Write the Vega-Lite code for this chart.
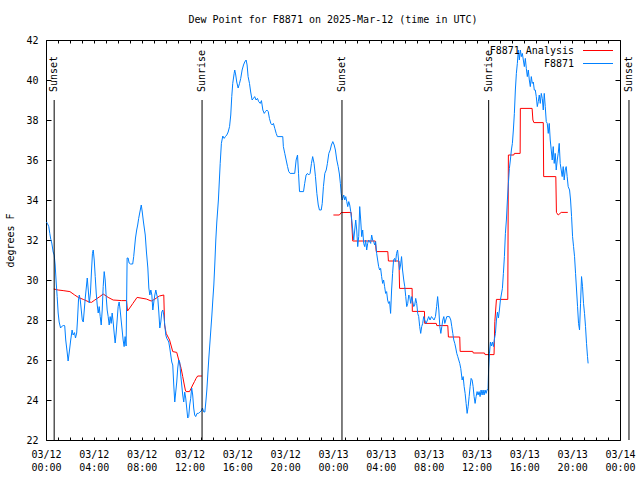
{
  "$schema": "https://vega.github.io/schema/vega-lite/v6.json",
  "width": 574,
  "height": 400,
  "autosize": "none",
  "padding": {"left": 46, "top": 40, "right": 20, "bottom": 40},
  "background": "white",
  "title": {"text": "Dew Point for F8871 on 2025-Mar-12 (time in UTC)", "font": "DejaVu Sans Mono", "fontSize": 10, "fontWeight": "normal", "color": "black", "anchor": "middle", "offset": 10},
  "datasets": {
    "dew": [
      {"time": "2025-03-12T00:39:00Z", "dewpoint": 29.55, "series": "F8871 Analysis"},
      {"time": "2025-03-12T01:01:00Z", "dewpoint": 29.5, "series": "F8871 Analysis"},
      {"time": "2025-03-12T01:26:00Z", "dewpoint": 29.47, "series": "F8871 Analysis"},
      {"time": "2025-03-12T02:00:00Z", "dewpoint": 29.42, "series": "F8871 Analysis"},
      {"time": "2025-03-12T02:24:00Z", "dewpoint": 29.25, "series": "F8871 Analysis"},
      {"time": "2025-03-12T02:42:00Z", "dewpoint": 29.13, "series": "F8871 Analysis"},
      {"time": "2025-03-12T03:07:00Z", "dewpoint": 29.03, "series": "F8871 Analysis"},
      {"time": "2025-03-12T03:32:00Z", "dewpoint": 28.92, "series": "F8871 Analysis"},
      {"time": "2025-03-12T03:48:00Z", "dewpoint": 28.88, "series": "F8871 Analysis"},
      {"time": "2025-03-12T04:05:00Z", "dewpoint": 29.0, "series": "F8871 Analysis"},
      {"time": "2025-03-12T04:30:00Z", "dewpoint": 29.17, "series": "F8871 Analysis"},
      {"time": "2025-03-12T04:47:00Z", "dewpoint": 29.3, "series": "F8871 Analysis"},
      {"time": "2025-03-12T05:12:00Z", "dewpoint": 29.13, "series": "F8871 Analysis"},
      {"time": "2025-03-12T05:37:00Z", "dewpoint": 29.0, "series": "F8871 Analysis"},
      {"time": "2025-03-12T06:19:00Z", "dewpoint": 28.97, "series": "F8871 Analysis"},
      {"time": "2025-03-12T06:44:00Z", "dewpoint": 28.97, "series": "F8871 Analysis"},
      {"time": "2025-03-12T06:49:00Z", "dewpoint": 28.45, "series": "F8871 Analysis"},
      {"time": "2025-03-12T07:00:00Z", "dewpoint": 28.6, "series": "F8871 Analysis"},
      {"time": "2025-03-12T07:16:00Z", "dewpoint": 28.83, "series": "F8871 Analysis"},
      {"time": "2025-03-12T07:37:00Z", "dewpoint": 29.13, "series": "F8871 Analysis"},
      {"time": "2025-03-12T08:23:00Z", "dewpoint": 29.05, "series": "F8871 Analysis"},
      {"time": "2025-03-12T08:48:00Z", "dewpoint": 28.95, "series": "F8871 Analysis"},
      {"time": "2025-03-12T09:04:00Z", "dewpoint": 29.03, "series": "F8871 Analysis"},
      {"time": "2025-03-12T09:29:00Z", "dewpoint": 29.2, "series": "F8871 Analysis"},
      {"time": "2025-03-12T09:51:00Z", "dewpoint": 29.25, "series": "F8871 Analysis"},
      {"time": "2025-03-12T09:55:00Z", "dewpoint": 27.75, "series": "F8871 Analysis"},
      {"time": "2025-03-12T10:03:00Z", "dewpoint": 27.33, "series": "F8871 Analysis"},
      {"time": "2025-03-12T10:20:00Z", "dewpoint": 27.0, "series": "F8871 Analysis"},
      {"time": "2025-03-12T10:36:00Z", "dewpoint": 26.42, "series": "F8871 Analysis"},
      {"time": "2025-03-12T10:56:00Z", "dewpoint": 26.38, "series": "F8871 Analysis"},
      {"time": "2025-03-12T11:06:00Z", "dewpoint": 26.0, "series": "F8871 Analysis"},
      {"time": "2025-03-12T11:18:00Z", "dewpoint": 25.58, "series": "F8871 Analysis"},
      {"time": "2025-03-12T11:26:00Z", "dewpoint": 25.17, "series": "F8871 Analysis"},
      {"time": "2025-03-12T11:34:00Z", "dewpoint": 24.75, "series": "F8871 Analysis"},
      {"time": "2025-03-12T11:39:00Z", "dewpoint": 24.5, "series": "F8871 Analysis"},
      {"time": "2025-03-12T11:43:00Z", "dewpoint": 24.42, "series": "F8871 Analysis"},
      {"time": "2025-03-12T12:00:00Z", "dewpoint": 24.42, "series": "F8871 Analysis"},
      {"time": "2025-03-12T12:08:00Z", "dewpoint": 24.58, "series": "F8871 Analysis"},
      {"time": "2025-03-12T12:16:00Z", "dewpoint": 24.75, "series": "F8871 Analysis"},
      {"time": "2025-03-12T12:25:00Z", "dewpoint": 24.92, "series": "F8871 Analysis"},
      {"time": "2025-03-12T12:33:00Z", "dewpoint": 25.08, "series": "F8871 Analysis"},
      {"time": "2025-03-12T12:41:00Z", "dewpoint": 25.2, "series": "F8871 Analysis"},
      {"time": "2025-03-12T13:02:00Z", "dewpoint": 25.2, "series": "F8871 Analysis"},
      {"time": "2025-03-12T18:00:00Z", "dewpoint": null, "series": "F8871 Analysis"},
      {"time": "2025-03-13T00:02:00Z", "dewpoint": 33.25, "series": "F8871 Analysis"},
      {"time": "2025-03-13T00:32:00Z", "dewpoint": 33.25, "series": "F8871 Analysis"},
      {"time": "2025-03-13T00:41:00Z", "dewpoint": 33.37, "series": "F8871 Analysis"},
      {"time": "2025-03-13T01:31:00Z", "dewpoint": 33.38, "series": "F8871 Analysis"},
      {"time": "2025-03-13T01:39:00Z", "dewpoint": 31.95, "series": "F8871 Analysis"},
      {"time": "2025-03-13T03:32:00Z", "dewpoint": 31.95, "series": "F8871 Analysis"},
      {"time": "2025-03-13T03:37:00Z", "dewpoint": 31.42, "series": "F8871 Analysis"},
      {"time": "2025-03-13T04:35:00Z", "dewpoint": 31.42, "series": "F8871 Analysis"},
      {"time": "2025-03-13T04:38:00Z", "dewpoint": 30.95, "series": "F8871 Analysis"},
      {"time": "2025-03-13T05:31:00Z", "dewpoint": 30.95, "series": "F8871 Analysis"},
      {"time": "2025-03-13T05:34:00Z", "dewpoint": 29.58, "series": "F8871 Analysis"},
      {"time": "2025-03-13T06:37:00Z", "dewpoint": 29.58, "series": "F8871 Analysis"},
      {"time": "2025-03-13T06:38:00Z", "dewpoint": 28.43, "series": "F8871 Analysis"},
      {"time": "2025-03-13T07:39:00Z", "dewpoint": 28.43, "series": "F8871 Analysis"},
      {"time": "2025-03-13T07:40:00Z", "dewpoint": 27.83, "series": "F8871 Analysis"},
      {"time": "2025-03-13T08:38:00Z", "dewpoint": 27.83, "series": "F8871 Analysis"},
      {"time": "2025-03-13T08:41:00Z", "dewpoint": 27.72, "series": "F8871 Analysis"},
      {"time": "2025-03-13T09:36:00Z", "dewpoint": 27.72, "series": "F8871 Analysis"},
      {"time": "2025-03-13T09:39:00Z", "dewpoint": 27.15, "series": "F8871 Analysis"},
      {"time": "2025-03-13T10:36:00Z", "dewpoint": 27.15, "series": "F8871 Analysis"},
      {"time": "2025-03-13T10:38:00Z", "dewpoint": 26.43, "series": "F8871 Analysis"},
      {"time": "2025-03-13T11:41:00Z", "dewpoint": 26.43, "series": "F8871 Analysis"},
      {"time": "2025-03-13T11:44:00Z", "dewpoint": 26.35, "series": "F8871 Analysis"},
      {"time": "2025-03-13T12:40:00Z", "dewpoint": 26.35, "series": "F8871 Analysis"},
      {"time": "2025-03-13T12:43:00Z", "dewpoint": 26.27, "series": "F8871 Analysis"},
      {"time": "2025-03-13T13:28:00Z", "dewpoint": 26.27, "series": "F8871 Analysis"},
      {"time": "2025-03-13T13:32:00Z", "dewpoint": 27.92, "series": "F8871 Analysis"},
      {"time": "2025-03-13T13:40:00Z", "dewpoint": 29.03, "series": "F8871 Analysis"},
      {"time": "2025-03-13T14:37:00Z", "dewpoint": 29.03, "series": "F8871 Analysis"},
      {"time": "2025-03-13T14:40:00Z", "dewpoint": 36.25, "series": "F8871 Analysis"},
      {"time": "2025-03-13T15:07:00Z", "dewpoint": 36.25, "series": "F8871 Analysis"},
      {"time": "2025-03-13T15:10:00Z", "dewpoint": 36.33, "series": "F8871 Analysis"},
      {"time": "2025-03-13T15:39:00Z", "dewpoint": 36.33, "series": "F8871 Analysis"},
      {"time": "2025-03-13T15:40:00Z", "dewpoint": 38.58, "series": "F8871 Analysis"},
      {"time": "2025-03-13T16:39:00Z", "dewpoint": 38.58, "series": "F8871 Analysis"},
      {"time": "2025-03-13T16:43:00Z", "dewpoint": 38.0, "series": "F8871 Analysis"},
      {"time": "2025-03-13T16:48:00Z", "dewpoint": 37.87, "series": "F8871 Analysis"},
      {"time": "2025-03-13T17:35:00Z", "dewpoint": 37.87, "series": "F8871 Analysis"},
      {"time": "2025-03-13T17:37:00Z", "dewpoint": 35.17, "series": "F8871 Analysis"},
      {"time": "2025-03-13T18:38:00Z", "dewpoint": 35.17, "series": "F8871 Analysis"},
      {"time": "2025-03-13T18:41:00Z", "dewpoint": 33.38, "series": "F8871 Analysis"},
      {"time": "2025-03-13T18:50:00Z", "dewpoint": 33.25, "series": "F8871 Analysis"},
      {"time": "2025-03-13T19:05:00Z", "dewpoint": 33.38, "series": "F8871 Analysis"},
      {"time": "2025-03-13T19:38:00Z", "dewpoint": 33.38, "series": "F8871 Analysis"},
      {"time": "2025-03-12T00:02:00Z", "dewpoint": 32.9, "series": "F8871"},
      {"time": "2025-03-12T00:07:00Z", "dewpoint": 32.83, "series": "F8871"},
      {"time": "2025-03-12T00:14:00Z", "dewpoint": 32.67, "series": "F8871"},
      {"time": "2025-03-12T00:19:00Z", "dewpoint": 32.33, "series": "F8871"},
      {"time": "2025-03-12T00:24:00Z", "dewpoint": 32.03, "series": "F8871"},
      {"time": "2025-03-12T00:29:00Z", "dewpoint": 31.85, "series": "F8871"},
      {"time": "2025-03-12T00:36:00Z", "dewpoint": 31.4, "series": "F8871"},
      {"time": "2025-03-12T00:41:00Z", "dewpoint": 31.25, "series": "F8871"},
      {"time": "2025-03-12T00:46:00Z", "dewpoint": 30.75, "series": "F8871"},
      {"time": "2025-03-12T00:51:00Z", "dewpoint": 29.9, "series": "F8871"},
      {"time": "2025-03-12T00:56:00Z", "dewpoint": 29.17, "series": "F8871"},
      {"time": "2025-03-12T01:01:00Z", "dewpoint": 28.35, "series": "F8871"},
      {"time": "2025-03-12T01:06:00Z", "dewpoint": 27.9, "series": "F8871"},
      {"time": "2025-03-12T01:13:00Z", "dewpoint": 27.6, "series": "F8871"},
      {"time": "2025-03-12T01:18:00Z", "dewpoint": 27.67, "series": "F8871"},
      {"time": "2025-03-12T01:24:00Z", "dewpoint": 27.7, "series": "F8871"},
      {"time": "2025-03-12T01:29:00Z", "dewpoint": 27.75, "series": "F8871"},
      {"time": "2025-03-12T01:34:00Z", "dewpoint": 27.7, "series": "F8871"},
      {"time": "2025-03-12T01:39:00Z", "dewpoint": 27.0, "series": "F8871"},
      {"time": "2025-03-12T01:46:00Z", "dewpoint": 26.4, "series": "F8871"},
      {"time": "2025-03-12T01:51:00Z", "dewpoint": 25.95, "series": "F8871"},
      {"time": "2025-03-12T01:58:00Z", "dewpoint": 26.5, "series": "F8871"},
      {"time": "2025-03-12T02:04:00Z", "dewpoint": 27.0, "series": "F8871"},
      {"time": "2025-03-12T02:11:00Z", "dewpoint": 27.5, "series": "F8871"},
      {"time": "2025-03-12T02:16:00Z", "dewpoint": 27.25, "series": "F8871"},
      {"time": "2025-03-12T02:23:00Z", "dewpoint": 27.37, "series": "F8871"},
      {"time": "2025-03-12T02:28:00Z", "dewpoint": 27.1, "series": "F8871"},
      {"time": "2025-03-12T02:34:00Z", "dewpoint": 27.35, "series": "F8871"},
      {"time": "2025-03-12T02:38:00Z", "dewpoint": 28.0, "series": "F8871"},
      {"time": "2025-03-12T02:43:00Z", "dewpoint": 29.0, "series": "F8871"},
      {"time": "2025-03-12T02:47:00Z", "dewpoint": 29.25, "series": "F8871"},
      {"time": "2025-03-12T02:52:00Z", "dewpoint": 29.0, "series": "F8871"},
      {"time": "2025-03-12T02:57:00Z", "dewpoint": 28.5, "series": "F8871"},
      {"time": "2025-03-12T03:02:00Z", "dewpoint": 28.0, "series": "F8871"},
      {"time": "2025-03-12T03:07:00Z", "dewpoint": 27.9, "series": "F8871"},
      {"time": "2025-03-12T03:12:00Z", "dewpoint": 28.5, "series": "F8871"},
      {"time": "2025-03-12T03:17:00Z", "dewpoint": 29.1, "series": "F8871"},
      {"time": "2025-03-12T03:22:00Z", "dewpoint": 29.6, "series": "F8871"},
      {"time": "2025-03-12T03:27:00Z", "dewpoint": 30.1, "series": "F8871"},
      {"time": "2025-03-12T03:32:00Z", "dewpoint": 29.5, "series": "F8871"},
      {"time": "2025-03-12T03:37:00Z", "dewpoint": 28.85, "series": "F8871"},
      {"time": "2025-03-12T03:43:00Z", "dewpoint": 29.35, "series": "F8871"},
      {"time": "2025-03-12T03:48:00Z", "dewpoint": 30.4, "series": "F8871"},
      {"time": "2025-03-12T03:53:00Z", "dewpoint": 31.33, "series": "F8871"},
      {"time": "2025-03-12T03:57:00Z", "dewpoint": 31.5, "series": "F8871"},
      {"time": "2025-03-12T04:02:00Z", "dewpoint": 31.0, "series": "F8871"},
      {"time": "2025-03-12T04:07:00Z", "dewpoint": 30.17, "series": "F8871"},
      {"time": "2025-03-12T04:12:00Z", "dewpoint": 29.35, "series": "F8871"},
      {"time": "2025-03-12T04:17:00Z", "dewpoint": 28.75, "series": "F8871"},
      {"time": "2025-03-12T04:22:00Z", "dewpoint": 28.35, "series": "F8871"},
      {"time": "2025-03-12T04:27:00Z", "dewpoint": 28.67, "series": "F8871"},
      {"time": "2025-03-12T04:32:00Z", "dewpoint": 28.17, "series": "F8871"},
      {"time": "2025-03-12T04:37:00Z", "dewpoint": 27.75, "series": "F8871"},
      {"time": "2025-03-12T04:42:00Z", "dewpoint": 28.5, "series": "F8871"},
      {"time": "2025-03-12T04:47:00Z", "dewpoint": 29.67, "series": "F8871"},
      {"time": "2025-03-12T04:52:00Z", "dewpoint": 30.42, "series": "F8871"},
      {"time": "2025-03-12T04:57:00Z", "dewpoint": 30.0, "series": "F8871"},
      {"time": "2025-03-12T05:02:00Z", "dewpoint": 29.17, "series": "F8871"},
      {"time": "2025-03-12T05:07:00Z", "dewpoint": 28.5, "series": "F8871"},
      {"time": "2025-03-12T05:12:00Z", "dewpoint": 28.17, "series": "F8871"},
      {"time": "2025-03-12T05:17:00Z", "dewpoint": 27.75, "series": "F8871"},
      {"time": "2025-03-12T05:22:00Z", "dewpoint": 28.17, "series": "F8871"},
      {"time": "2025-03-12T05:27:00Z", "dewpoint": 27.83, "series": "F8871"},
      {"time": "2025-03-12T05:32:00Z", "dewpoint": 28.35, "series": "F8871"},
      {"time": "2025-03-12T05:37:00Z", "dewpoint": 27.9, "series": "F8871"},
      {"time": "2025-03-12T05:42:00Z", "dewpoint": 27.35, "series": "F8871"},
      {"time": "2025-03-12T05:47:00Z", "dewpoint": 26.85, "series": "F8871"},
      {"time": "2025-03-12T05:52:00Z", "dewpoint": 27.35, "series": "F8871"},
      {"time": "2025-03-12T05:57:00Z", "dewpoint": 28.0, "series": "F8871"},
      {"time": "2025-03-12T06:02:00Z", "dewpoint": 28.67, "series": "F8871"},
      {"time": "2025-03-12T06:07:00Z", "dewpoint": 28.9, "series": "F8871"},
      {"time": "2025-03-12T06:12:00Z", "dewpoint": 28.5, "series": "F8871"},
      {"time": "2025-03-12T06:17:00Z", "dewpoint": 28.0, "series": "F8871"},
      {"time": "2025-03-12T06:22:00Z", "dewpoint": 27.5, "series": "F8871"},
      {"time": "2025-03-12T06:27:00Z", "dewpoint": 27.0, "series": "F8871"},
      {"time": "2025-03-12T06:32:00Z", "dewpoint": 26.67, "series": "F8871"},
      {"time": "2025-03-12T06:37:00Z", "dewpoint": 27.17, "series": "F8871"},
      {"time": "2025-03-12T06:42:00Z", "dewpoint": 26.7, "series": "F8871"},
      {"time": "2025-03-12T06:47:00Z", "dewpoint": 31.1, "series": "F8871"},
      {"time": "2025-03-12T06:52:00Z", "dewpoint": 31.1, "series": "F8871"},
      {"time": "2025-03-12T06:57:00Z", "dewpoint": 30.85, "series": "F8871"},
      {"time": "2025-03-12T07:04:00Z", "dewpoint": 30.8, "series": "F8871"},
      {"time": "2025-03-12T07:15:00Z", "dewpoint": 30.8, "series": "F8871"},
      {"time": "2025-03-12T07:20:00Z", "dewpoint": 31.17, "series": "F8871"},
      {"time": "2025-03-12T07:29:00Z", "dewpoint": 32.1, "series": "F8871"},
      {"time": "2025-03-12T07:35:00Z", "dewpoint": 32.5, "series": "F8871"},
      {"time": "2025-03-12T07:40:00Z", "dewpoint": 32.75, "series": "F8871"},
      {"time": "2025-03-12T07:45:00Z", "dewpoint": 33.08, "series": "F8871"},
      {"time": "2025-03-12T07:53:00Z", "dewpoint": 33.5, "series": "F8871"},
      {"time": "2025-03-12T07:58:00Z", "dewpoint": 33.75, "series": "F8871"},
      {"time": "2025-03-12T08:03:00Z", "dewpoint": 33.4, "series": "F8871"},
      {"time": "2025-03-12T08:09:00Z", "dewpoint": 32.9, "series": "F8871"},
      {"time": "2025-03-12T08:18:00Z", "dewpoint": 32.25, "series": "F8871"},
      {"time": "2025-03-12T08:24:00Z", "dewpoint": 31.4, "series": "F8871"},
      {"time": "2025-03-12T08:31:00Z", "dewpoint": 30.6, "series": "F8871"},
      {"time": "2025-03-12T08:36:00Z", "dewpoint": 29.6, "series": "F8871"},
      {"time": "2025-03-12T08:41:00Z", "dewpoint": 29.25, "series": "F8871"},
      {"time": "2025-03-12T08:46:00Z", "dewpoint": 29.5, "series": "F8871"},
      {"time": "2025-03-12T08:51:00Z", "dewpoint": 29.25, "series": "F8871"},
      {"time": "2025-03-12T08:56:00Z", "dewpoint": 28.5, "series": "F8871"},
      {"time": "2025-03-12T09:01:00Z", "dewpoint": 28.9, "series": "F8871"},
      {"time": "2025-03-12T09:06:00Z", "dewpoint": 29.25, "series": "F8871"},
      {"time": "2025-03-12T09:11:00Z", "dewpoint": 29.5, "series": "F8871"},
      {"time": "2025-03-12T09:16:00Z", "dewpoint": 29.25, "series": "F8871"},
      {"time": "2025-03-12T09:21:00Z", "dewpoint": 29.08, "series": "F8871"},
      {"time": "2025-03-12T09:26:00Z", "dewpoint": 28.4, "series": "F8871"},
      {"time": "2025-03-12T09:31:00Z", "dewpoint": 27.6, "series": "F8871"},
      {"time": "2025-03-12T09:36:00Z", "dewpoint": 27.9, "series": "F8871"},
      {"time": "2025-03-12T09:41:00Z", "dewpoint": 28.4, "series": "F8871"},
      {"time": "2025-03-12T09:46:00Z", "dewpoint": 28.5, "series": "F8871"},
      {"time": "2025-03-12T09:51:00Z", "dewpoint": 28.25, "series": "F8871"},
      {"time": "2025-03-12T09:56:00Z", "dewpoint": 27.75, "series": "F8871"},
      {"time": "2025-03-12T10:01:00Z", "dewpoint": 27.25, "series": "F8871"},
      {"time": "2025-03-12T10:06:00Z", "dewpoint": 27.08, "series": "F8871"},
      {"time": "2025-03-12T10:11:00Z", "dewpoint": 27.0, "series": "F8871"},
      {"time": "2025-03-12T10:16:00Z", "dewpoint": 26.9, "series": "F8871"},
      {"time": "2025-03-12T10:21:00Z", "dewpoint": 26.6, "series": "F8871"},
      {"time": "2025-03-12T10:26:00Z", "dewpoint": 26.25, "series": "F8871"},
      {"time": "2025-03-12T10:31:00Z", "dewpoint": 25.9, "series": "F8871"},
      {"time": "2025-03-12T10:36:00Z", "dewpoint": 25.75, "series": "F8871"},
      {"time": "2025-03-12T10:41:00Z", "dewpoint": 24.75, "series": "F8871"},
      {"time": "2025-03-12T10:46:00Z", "dewpoint": 23.9, "series": "F8871"},
      {"time": "2025-03-12T10:51:00Z", "dewpoint": 24.4, "series": "F8871"},
      {"time": "2025-03-12T10:56:00Z", "dewpoint": 24.9, "series": "F8871"},
      {"time": "2025-03-12T11:01:00Z", "dewpoint": 25.6, "series": "F8871"},
      {"time": "2025-03-12T11:06:00Z", "dewpoint": 26.0, "series": "F8871"},
      {"time": "2025-03-12T11:11:00Z", "dewpoint": 25.9, "series": "F8871"},
      {"time": "2025-03-12T11:16:00Z", "dewpoint": 25.25, "series": "F8871"},
      {"time": "2025-03-12T11:21:00Z", "dewpoint": 24.75, "series": "F8871"},
      {"time": "2025-03-12T11:26:00Z", "dewpoint": 24.25, "series": "F8871"},
      {"time": "2025-03-12T11:31:00Z", "dewpoint": 23.9, "series": "F8871"},
      {"time": "2025-03-12T11:36:00Z", "dewpoint": 24.4, "series": "F8871"},
      {"time": "2025-03-12T11:41:00Z", "dewpoint": 24.1, "series": "F8871"},
      {"time": "2025-03-12T11:46:00Z", "dewpoint": 23.6, "series": "F8871"},
      {"time": "2025-03-12T11:51:00Z", "dewpoint": 23.1, "series": "F8871"},
      {"time": "2025-03-12T11:56:00Z", "dewpoint": 23.17, "series": "F8871"},
      {"time": "2025-03-12T12:01:00Z", "dewpoint": 23.75, "series": "F8871"},
      {"time": "2025-03-12T12:06:00Z", "dewpoint": 24.08, "series": "F8871"},
      {"time": "2025-03-12T12:11:00Z", "dewpoint": 24.6, "series": "F8871"},
      {"time": "2025-03-12T12:16:00Z", "dewpoint": 24.25, "series": "F8871"},
      {"time": "2025-03-12T12:21:00Z", "dewpoint": 23.6, "series": "F8871"},
      {"time": "2025-03-12T12:26:00Z", "dewpoint": 23.25, "series": "F8871"},
      {"time": "2025-03-12T12:31:00Z", "dewpoint": 23.17, "series": "F8871"},
      {"time": "2025-03-12T12:38:00Z", "dewpoint": 23.33, "series": "F8871"},
      {"time": "2025-03-12T12:45:00Z", "dewpoint": 23.33, "series": "F8871"},
      {"time": "2025-03-12T12:52:00Z", "dewpoint": 23.4, "series": "F8871"},
      {"time": "2025-03-12T12:59:00Z", "dewpoint": 23.45, "series": "F8871"},
      {"time": "2025-03-12T13:05:00Z", "dewpoint": 23.6, "series": "F8871"},
      {"time": "2025-03-12T13:12:00Z", "dewpoint": 23.4, "series": "F8871"},
      {"time": "2025-03-12T13:17:00Z", "dewpoint": 23.4, "series": "F8871"},
      {"time": "2025-03-12T13:22:00Z", "dewpoint": 23.9, "series": "F8871"},
      {"time": "2025-03-12T13:27:00Z", "dewpoint": 24.5, "series": "F8871"},
      {"time": "2025-03-12T13:32:00Z", "dewpoint": 25.3, "series": "F8871"},
      {"time": "2025-03-12T13:37:00Z", "dewpoint": 26.1, "series": "F8871"},
      {"time": "2025-03-12T13:42:00Z", "dewpoint": 26.8, "series": "F8871"},
      {"time": "2025-03-12T13:47:00Z", "dewpoint": 27.5, "series": "F8871"},
      {"time": "2025-03-12T13:52:00Z", "dewpoint": 28.2, "series": "F8871"},
      {"time": "2025-03-12T13:57:00Z", "dewpoint": 29.0, "series": "F8871"},
      {"time": "2025-03-12T14:02:00Z", "dewpoint": 29.75, "series": "F8871"},
      {"time": "2025-03-12T14:07:00Z", "dewpoint": 30.8, "series": "F8871"},
      {"time": "2025-03-12T14:12:00Z", "dewpoint": 32.0, "series": "F8871"},
      {"time": "2025-03-12T14:17:00Z", "dewpoint": 32.9, "series": "F8871"},
      {"time": "2025-03-12T14:25:00Z", "dewpoint": 34.0, "series": "F8871"},
      {"time": "2025-03-12T14:34:00Z", "dewpoint": 35.83, "series": "F8871"},
      {"time": "2025-03-12T14:40:00Z", "dewpoint": 36.83, "series": "F8871"},
      {"time": "2025-03-12T14:47:00Z", "dewpoint": 37.2, "series": "F8871"},
      {"time": "2025-03-12T14:54:00Z", "dewpoint": 37.08, "series": "F8871"},
      {"time": "2025-03-12T15:00:00Z", "dewpoint": 37.17, "series": "F8871"},
      {"time": "2025-03-12T15:07:00Z", "dewpoint": 37.25, "series": "F8871"},
      {"time": "2025-03-12T15:14:00Z", "dewpoint": 37.4, "series": "F8871"},
      {"time": "2025-03-12T15:21:00Z", "dewpoint": 37.67, "series": "F8871"},
      {"time": "2025-03-12T15:27:00Z", "dewpoint": 38.25, "series": "F8871"},
      {"time": "2025-03-12T15:32:00Z", "dewpoint": 39.17, "series": "F8871"},
      {"time": "2025-03-12T15:37:00Z", "dewpoint": 39.83, "series": "F8871"},
      {"time": "2025-03-12T15:44:00Z", "dewpoint": 40.33, "series": "F8871"},
      {"time": "2025-03-12T15:47:00Z", "dewpoint": 40.5, "series": "F8871"},
      {"time": "2025-03-12T15:52:00Z", "dewpoint": 40.25, "series": "F8871"},
      {"time": "2025-03-12T15:57:00Z", "dewpoint": 39.9, "series": "F8871"},
      {"time": "2025-03-12T16:04:00Z", "dewpoint": 39.6, "series": "F8871"},
      {"time": "2025-03-12T16:11:00Z", "dewpoint": 39.83, "series": "F8871"},
      {"time": "2025-03-12T16:17:00Z", "dewpoint": 40.08, "series": "F8871"},
      {"time": "2025-03-12T16:24:00Z", "dewpoint": 40.5, "series": "F8871"},
      {"time": "2025-03-12T16:31:00Z", "dewpoint": 40.75, "series": "F8871"},
      {"time": "2025-03-12T16:37:00Z", "dewpoint": 40.9, "series": "F8871"},
      {"time": "2025-03-12T16:44:00Z", "dewpoint": 41.0, "series": "F8871"},
      {"time": "2025-03-12T16:49:00Z", "dewpoint": 40.75, "series": "F8871"},
      {"time": "2025-03-12T16:54:00Z", "dewpoint": 40.17, "series": "F8871"},
      {"time": "2025-03-12T17:01:00Z", "dewpoint": 39.83, "series": "F8871"},
      {"time": "2025-03-12T17:07:00Z", "dewpoint": 39.4, "series": "F8871"},
      {"time": "2025-03-12T17:14:00Z", "dewpoint": 39.0, "series": "F8871"},
      {"time": "2025-03-12T17:21:00Z", "dewpoint": 39.08, "series": "F8871"},
      {"time": "2025-03-12T17:27:00Z", "dewpoint": 39.17, "series": "F8871"},
      {"time": "2025-03-12T17:34:00Z", "dewpoint": 39.0, "series": "F8871"},
      {"time": "2025-03-12T17:41:00Z", "dewpoint": 39.08, "series": "F8871"},
      {"time": "2025-03-12T17:47:00Z", "dewpoint": 38.92, "series": "F8871"},
      {"time": "2025-03-12T17:55:00Z", "dewpoint": 38.83, "series": "F8871"},
      {"time": "2025-03-12T18:01:00Z", "dewpoint": 38.97, "series": "F8871"},
      {"time": "2025-03-12T18:08:00Z", "dewpoint": 38.5, "series": "F8871"},
      {"time": "2025-03-12T18:15:00Z", "dewpoint": 38.33, "series": "F8871"},
      {"time": "2025-03-12T18:21:00Z", "dewpoint": 38.42, "series": "F8871"},
      {"time": "2025-03-12T18:28:00Z", "dewpoint": 38.5, "series": "F8871"},
      {"time": "2025-03-12T18:35:00Z", "dewpoint": 38.42, "series": "F8871"},
      {"time": "2025-03-12T18:41:00Z", "dewpoint": 38.08, "series": "F8871"},
      {"time": "2025-03-12T18:48:00Z", "dewpoint": 37.83, "series": "F8871"},
      {"time": "2025-03-12T18:55:00Z", "dewpoint": 37.75, "series": "F8871"},
      {"time": "2025-03-12T19:01:00Z", "dewpoint": 37.83, "series": "F8871"},
      {"time": "2025-03-12T19:08:00Z", "dewpoint": 37.58, "series": "F8871"},
      {"time": "2025-03-12T19:15:00Z", "dewpoint": 37.33, "series": "F8871"},
      {"time": "2025-03-12T19:21:00Z", "dewpoint": 37.17, "series": "F8871"},
      {"time": "2025-03-12T19:48:00Z", "dewpoint": 37.17, "series": "F8871"},
      {"time": "2025-03-12T19:51:00Z", "dewpoint": 36.67, "series": "F8871"},
      {"time": "2025-03-12T19:58:00Z", "dewpoint": 36.33, "series": "F8871"},
      {"time": "2025-03-12T20:05:00Z", "dewpoint": 36.0, "series": "F8871"},
      {"time": "2025-03-12T20:12:00Z", "dewpoint": 35.67, "series": "F8871"},
      {"time": "2025-03-12T20:18:00Z", "dewpoint": 35.42, "series": "F8871"},
      {"time": "2025-03-12T20:25:00Z", "dewpoint": 35.33, "series": "F8871"},
      {"time": "2025-03-12T20:48:00Z", "dewpoint": 35.33, "series": "F8871"},
      {"time": "2025-03-12T20:55:00Z", "dewpoint": 36.0, "series": "F8871"},
      {"time": "2025-03-12T21:02:00Z", "dewpoint": 36.25, "series": "F8871"},
      {"time": "2025-03-12T21:07:00Z", "dewpoint": 35.33, "series": "F8871"},
      {"time": "2025-03-12T21:12:00Z", "dewpoint": 34.42, "series": "F8871"},
      {"time": "2025-03-12T21:32:00Z", "dewpoint": 34.42, "series": "F8871"},
      {"time": "2025-03-12T21:38:00Z", "dewpoint": 34.83, "series": "F8871"},
      {"time": "2025-03-12T21:45:00Z", "dewpoint": 35.25, "series": "F8871"},
      {"time": "2025-03-12T21:52:00Z", "dewpoint": 35.33, "series": "F8871"},
      {"time": "2025-03-12T21:58:00Z", "dewpoint": 35.25, "series": "F8871"},
      {"time": "2025-03-12T22:05:00Z", "dewpoint": 35.33, "series": "F8871"},
      {"time": "2025-03-12T22:12:00Z", "dewpoint": 35.83, "series": "F8871"},
      {"time": "2025-03-12T22:18:00Z", "dewpoint": 36.17, "series": "F8871"},
      {"time": "2025-03-12T22:25:00Z", "dewpoint": 35.83, "series": "F8871"},
      {"time": "2025-03-12T22:32:00Z", "dewpoint": 35.17, "series": "F8871"},
      {"time": "2025-03-12T22:39:00Z", "dewpoint": 34.33, "series": "F8871"},
      {"time": "2025-03-12T22:46:00Z", "dewpoint": 33.75, "series": "F8871"},
      {"time": "2025-03-12T22:52:00Z", "dewpoint": 33.5, "series": "F8871"},
      {"time": "2025-03-12T23:01:00Z", "dewpoint": 33.5, "series": "F8871"},
      {"time": "2025-03-12T23:06:00Z", "dewpoint": 33.83, "series": "F8871"},
      {"time": "2025-03-12T23:12:00Z", "dewpoint": 34.67, "series": "F8871"},
      {"time": "2025-03-12T23:19:00Z", "dewpoint": 35.33, "series": "F8871"},
      {"time": "2025-03-12T23:26:00Z", "dewpoint": 35.5, "series": "F8871"},
      {"time": "2025-03-12T23:32:00Z", "dewpoint": 35.83, "series": "F8871"},
      {"time": "2025-03-12T23:39:00Z", "dewpoint": 36.33, "series": "F8871"},
      {"time": "2025-03-12T23:46:00Z", "dewpoint": 36.5, "series": "F8871"},
      {"time": "2025-03-12T23:52:00Z", "dewpoint": 36.75, "series": "F8871"},
      {"time": "2025-03-12T23:59:00Z", "dewpoint": 36.92, "series": "F8871"},
      {"time": "2025-03-13T00:06:00Z", "dewpoint": 36.75, "series": "F8871"},
      {"time": "2025-03-13T00:12:00Z", "dewpoint": 36.5, "series": "F8871"},
      {"time": "2025-03-13T00:19:00Z", "dewpoint": 36.0, "series": "F8871"},
      {"time": "2025-03-13T00:26:00Z", "dewpoint": 35.67, "series": "F8871"},
      {"time": "2025-03-13T00:32:00Z", "dewpoint": 35.3, "series": "F8871"},
      {"time": "2025-03-13T00:37:00Z", "dewpoint": 34.83, "series": "F8871"},
      {"time": "2025-03-13T00:41:00Z", "dewpoint": 34.33, "series": "F8871"},
      {"time": "2025-03-13T00:46:00Z", "dewpoint": 34.0, "series": "F8871"},
      {"time": "2025-03-13T00:49:00Z", "dewpoint": 34.08, "series": "F8871"},
      {"time": "2025-03-13T00:54:00Z", "dewpoint": 34.25, "series": "F8871"},
      {"time": "2025-03-13T00:59:00Z", "dewpoint": 34.0, "series": "F8871"},
      {"time": "2025-03-13T01:04:00Z", "dewpoint": 34.17, "series": "F8871"},
      {"time": "2025-03-13T01:09:00Z", "dewpoint": 33.92, "series": "F8871"},
      {"time": "2025-03-13T01:14:00Z", "dewpoint": 33.67, "series": "F8871"},
      {"time": "2025-03-13T01:19:00Z", "dewpoint": 33.92, "series": "F8871"},
      {"time": "2025-03-13T01:24:00Z", "dewpoint": 33.75, "series": "F8871"},
      {"time": "2025-03-13T01:29:00Z", "dewpoint": 33.42, "series": "F8871"},
      {"time": "2025-03-13T01:34:00Z", "dewpoint": 33.0, "series": "F8871"},
      {"time": "2025-03-13T01:39:00Z", "dewpoint": 32.5, "series": "F8871"},
      {"time": "2025-03-13T01:44:00Z", "dewpoint": 32.0, "series": "F8871"},
      {"time": "2025-03-13T01:49:00Z", "dewpoint": 32.5, "series": "F8871"},
      {"time": "2025-03-13T01:54:00Z", "dewpoint": 33.0, "series": "F8871"},
      {"time": "2025-03-13T01:59:00Z", "dewpoint": 32.5, "series": "F8871"},
      {"time": "2025-03-13T02:04:00Z", "dewpoint": 31.67, "series": "F8871"},
      {"time": "2025-03-13T02:09:00Z", "dewpoint": 32.17, "series": "F8871"},
      {"time": "2025-03-13T02:14:00Z", "dewpoint": 33.67, "series": "F8871"},
      {"time": "2025-03-13T02:19:00Z", "dewpoint": 33.0, "series": "F8871"},
      {"time": "2025-03-13T02:24:00Z", "dewpoint": 32.17, "series": "F8871"},
      {"time": "2025-03-13T02:29:00Z", "dewpoint": 32.5, "series": "F8871"},
      {"time": "2025-03-13T02:34:00Z", "dewpoint": 31.83, "series": "F8871"},
      {"time": "2025-03-13T02:39:00Z", "dewpoint": 31.67, "series": "F8871"},
      {"time": "2025-03-13T02:44:00Z", "dewpoint": 32.0, "series": "F8871"},
      {"time": "2025-03-13T02:49:00Z", "dewpoint": 31.5, "series": "F8871"},
      {"time": "2025-03-13T02:54:00Z", "dewpoint": 31.83, "series": "F8871"},
      {"time": "2025-03-13T02:59:00Z", "dewpoint": 32.0, "series": "F8871"},
      {"time": "2025-03-13T03:04:00Z", "dewpoint": 31.92, "series": "F8871"},
      {"time": "2025-03-13T03:09:00Z", "dewpoint": 31.83, "series": "F8871"},
      {"time": "2025-03-13T03:14:00Z", "dewpoint": 32.25, "series": "F8871"},
      {"time": "2025-03-13T03:19:00Z", "dewpoint": 32.0, "series": "F8871"},
      {"time": "2025-03-13T03:24:00Z", "dewpoint": 31.92, "series": "F8871"},
      {"time": "2025-03-13T03:29:00Z", "dewpoint": 31.75, "series": "F8871"},
      {"time": "2025-03-13T03:34:00Z", "dewpoint": 31.92, "series": "F8871"},
      {"time": "2025-03-13T03:39:00Z", "dewpoint": 31.33, "series": "F8871"},
      {"time": "2025-03-13T03:44:00Z", "dewpoint": 31.0, "series": "F8871"},
      {"time": "2025-03-13T03:49:00Z", "dewpoint": 30.67, "series": "F8871"},
      {"time": "2025-03-13T03:54:00Z", "dewpoint": 30.5, "series": "F8871"},
      {"time": "2025-03-13T03:59:00Z", "dewpoint": 30.58, "series": "F8871"},
      {"time": "2025-03-13T04:04:00Z", "dewpoint": 30.17, "series": "F8871"},
      {"time": "2025-03-13T04:09:00Z", "dewpoint": 29.83, "series": "F8871"},
      {"time": "2025-03-13T04:14:00Z", "dewpoint": 30.0, "series": "F8871"},
      {"time": "2025-03-13T04:19:00Z", "dewpoint": 29.67, "series": "F8871"},
      {"time": "2025-03-13T04:24:00Z", "dewpoint": 29.33, "series": "F8871"},
      {"time": "2025-03-13T04:29:00Z", "dewpoint": 29.42, "series": "F8871"},
      {"time": "2025-03-13T04:34:00Z", "dewpoint": 29.0, "series": "F8871"},
      {"time": "2025-03-13T04:39:00Z", "dewpoint": 28.83, "series": "F8871"},
      {"time": "2025-03-13T04:44:00Z", "dewpoint": 28.92, "series": "F8871"},
      {"time": "2025-03-13T04:49:00Z", "dewpoint": 28.33, "series": "F8871"},
      {"time": "2025-03-13T04:54:00Z", "dewpoint": 29.5, "series": "F8871"},
      {"time": "2025-03-13T04:59:00Z", "dewpoint": 30.33, "series": "F8871"},
      {"time": "2025-03-13T05:04:00Z", "dewpoint": 31.0, "series": "F8871"},
      {"time": "2025-03-13T05:09:00Z", "dewpoint": 31.08, "series": "F8871"},
      {"time": "2025-03-13T05:14:00Z", "dewpoint": 30.92, "series": "F8871"},
      {"time": "2025-03-13T05:19:00Z", "dewpoint": 31.33, "series": "F8871"},
      {"time": "2025-03-13T05:24:00Z", "dewpoint": 31.5, "series": "F8871"},
      {"time": "2025-03-13T05:29:00Z", "dewpoint": 31.0, "series": "F8871"},
      {"time": "2025-03-13T05:34:00Z", "dewpoint": 30.5, "series": "F8871"},
      {"time": "2025-03-13T05:39:00Z", "dewpoint": 30.75, "series": "F8871"},
      {"time": "2025-03-13T05:44:00Z", "dewpoint": 31.17, "series": "F8871"},
      {"time": "2025-03-13T05:49:00Z", "dewpoint": 30.5, "series": "F8871"},
      {"time": "2025-03-13T05:55:00Z", "dewpoint": 30.0, "series": "F8871"},
      {"time": "2025-03-13T06:00:00Z", "dewpoint": 29.67, "series": "F8871"},
      {"time": "2025-03-13T06:05:00Z", "dewpoint": 29.17, "series": "F8871"},
      {"time": "2025-03-13T06:10:00Z", "dewpoint": 28.67, "series": "F8871"},
      {"time": "2025-03-13T06:15:00Z", "dewpoint": 28.83, "series": "F8871"},
      {"time": "2025-03-13T06:20:00Z", "dewpoint": 29.25, "series": "F8871"},
      {"time": "2025-03-13T06:25:00Z", "dewpoint": 29.17, "series": "F8871"},
      {"time": "2025-03-13T06:30:00Z", "dewpoint": 28.83, "series": "F8871"},
      {"time": "2025-03-13T06:35:00Z", "dewpoint": 29.17, "series": "F8871"},
      {"time": "2025-03-13T06:40:00Z", "dewpoint": 28.92, "series": "F8871"},
      {"time": "2025-03-13T06:45:00Z", "dewpoint": 28.67, "series": "F8871"},
      {"time": "2025-03-13T06:50:00Z", "dewpoint": 28.75, "series": "F8871"},
      {"time": "2025-03-13T06:55:00Z", "dewpoint": 29.08, "series": "F8871"},
      {"time": "2025-03-13T07:00:00Z", "dewpoint": 28.83, "series": "F8871"},
      {"time": "2025-03-13T07:05:00Z", "dewpoint": 28.33, "series": "F8871"},
      {"time": "2025-03-13T07:10:00Z", "dewpoint": 28.17, "series": "F8871"},
      {"time": "2025-03-13T07:15:00Z", "dewpoint": 27.67, "series": "F8871"},
      {"time": "2025-03-13T07:20:00Z", "dewpoint": 27.33, "series": "F8871"},
      {"time": "2025-03-13T07:25:00Z", "dewpoint": 27.67, "series": "F8871"},
      {"time": "2025-03-13T07:30:00Z", "dewpoint": 27.83, "series": "F8871"},
      {"time": "2025-03-13T07:35:00Z", "dewpoint": 28.17, "series": "F8871"},
      {"time": "2025-03-13T07:40:00Z", "dewpoint": 28.0, "series": "F8871"},
      {"time": "2025-03-13T07:47:00Z", "dewpoint": 27.83, "series": "F8871"},
      {"time": "2025-03-13T07:54:00Z", "dewpoint": 28.0, "series": "F8871"},
      {"time": "2025-03-13T08:00:00Z", "dewpoint": 28.17, "series": "F8871"},
      {"time": "2025-03-13T08:07:00Z", "dewpoint": 28.0, "series": "F8871"},
      {"time": "2025-03-13T08:14:00Z", "dewpoint": 28.17, "series": "F8871"},
      {"time": "2025-03-13T08:27:00Z", "dewpoint": 28.0, "series": "F8871"},
      {"time": "2025-03-13T08:34:00Z", "dewpoint": 28.17, "series": "F8871"},
      {"time": "2025-03-13T08:40:00Z", "dewpoint": 28.67, "series": "F8871"},
      {"time": "2025-03-13T08:45:00Z", "dewpoint": 29.17, "series": "F8871"},
      {"time": "2025-03-13T08:51:00Z", "dewpoint": 28.5, "series": "F8871"},
      {"time": "2025-03-13T08:56:00Z", "dewpoint": 27.67, "series": "F8871"},
      {"time": "2025-03-13T09:01:00Z", "dewpoint": 27.33, "series": "F8871"},
      {"time": "2025-03-13T09:06:00Z", "dewpoint": 27.67, "series": "F8871"},
      {"time": "2025-03-13T09:11:00Z", "dewpoint": 28.0, "series": "F8871"},
      {"time": "2025-03-13T09:16:00Z", "dewpoint": 28.17, "series": "F8871"},
      {"time": "2025-03-13T09:21:00Z", "dewpoint": 27.83, "series": "F8871"},
      {"time": "2025-03-13T09:26:00Z", "dewpoint": 28.0, "series": "F8871"},
      {"time": "2025-03-13T09:31:00Z", "dewpoint": 28.17, "series": "F8871"},
      {"time": "2025-03-13T09:44:00Z", "dewpoint": 28.17, "series": "F8871"},
      {"time": "2025-03-13T09:51:00Z", "dewpoint": 28.0, "series": "F8871"},
      {"time": "2025-03-13T09:56:00Z", "dewpoint": 27.67, "series": "F8871"},
      {"time": "2025-03-13T10:01:00Z", "dewpoint": 27.33, "series": "F8871"},
      {"time": "2025-03-13T10:06:00Z", "dewpoint": 27.0, "series": "F8871"},
      {"time": "2025-03-13T10:11:00Z", "dewpoint": 26.83, "series": "F8871"},
      {"time": "2025-03-13T10:16:00Z", "dewpoint": 26.6, "series": "F8871"},
      {"time": "2025-03-13T10:21:00Z", "dewpoint": 26.33, "series": "F8871"},
      {"time": "2025-03-13T10:26:00Z", "dewpoint": 26.17, "series": "F8871"},
      {"time": "2025-03-13T10:31:00Z", "dewpoint": 26.0, "series": "F8871"},
      {"time": "2025-03-13T10:36:00Z", "dewpoint": 25.83, "series": "F8871"},
      {"time": "2025-03-13T10:41:00Z", "dewpoint": 25.58, "series": "F8871"},
      {"time": "2025-03-13T10:48:00Z", "dewpoint": 25.0, "series": "F8871"},
      {"time": "2025-03-13T10:53:00Z", "dewpoint": 25.17, "series": "F8871"},
      {"time": "2025-03-13T10:58:00Z", "dewpoint": 24.67, "series": "F8871"},
      {"time": "2025-03-13T11:03:00Z", "dewpoint": 24.33, "series": "F8871"},
      {"time": "2025-03-13T11:08:00Z", "dewpoint": 23.83, "series": "F8871"},
      {"time": "2025-03-13T11:13:00Z", "dewpoint": 23.33, "series": "F8871"},
      {"time": "2025-03-13T11:18:00Z", "dewpoint": 23.67, "series": "F8871"},
      {"time": "2025-03-13T11:23:00Z", "dewpoint": 24.17, "series": "F8871"},
      {"time": "2025-03-13T11:28:00Z", "dewpoint": 24.67, "series": "F8871"},
      {"time": "2025-03-13T11:33:00Z", "dewpoint": 25.08, "series": "F8871"},
      {"time": "2025-03-13T11:38:00Z", "dewpoint": 25.0, "series": "F8871"},
      {"time": "2025-03-13T11:43:00Z", "dewpoint": 24.67, "series": "F8871"},
      {"time": "2025-03-13T11:48:00Z", "dewpoint": 24.17, "series": "F8871"},
      {"time": "2025-03-13T11:53:00Z", "dewpoint": 23.83, "series": "F8871"},
      {"time": "2025-03-13T11:58:00Z", "dewpoint": 24.17, "series": "F8871"},
      {"time": "2025-03-13T12:03:00Z", "dewpoint": 24.42, "series": "F8871"},
      {"time": "2025-03-13T12:08:00Z", "dewpoint": 24.25, "series": "F8871"},
      {"time": "2025-03-13T12:13:00Z", "dewpoint": 24.42, "series": "F8871"},
      {"time": "2025-03-13T12:18:00Z", "dewpoint": 24.17, "series": "F8871"},
      {"time": "2025-03-13T12:23:00Z", "dewpoint": 24.5, "series": "F8871"},
      {"time": "2025-03-13T12:28:00Z", "dewpoint": 24.25, "series": "F8871"},
      {"time": "2025-03-13T12:33:00Z", "dewpoint": 24.5, "series": "F8871"},
      {"time": "2025-03-13T12:38:00Z", "dewpoint": 24.25, "series": "F8871"},
      {"time": "2025-03-13T12:43:00Z", "dewpoint": 24.5, "series": "F8871"},
      {"time": "2025-03-13T12:48:00Z", "dewpoint": 24.33, "series": "F8871"},
      {"time": "2025-03-13T12:53:00Z", "dewpoint": 24.5, "series": "F8871"},
      {"time": "2025-03-13T12:58:00Z", "dewpoint": 24.58, "series": "F8871"},
      {"time": "2025-03-13T13:01:00Z", "dewpoint": 25.6, "series": "F8871"},
      {"time": "2025-03-13T13:05:00Z", "dewpoint": 26.33, "series": "F8871"},
      {"time": "2025-03-13T13:10:00Z", "dewpoint": 26.9, "series": "F8871"},
      {"time": "2025-03-13T13:15:00Z", "dewpoint": 26.7, "series": "F8871"},
      {"time": "2025-03-13T13:20:00Z", "dewpoint": 26.9, "series": "F8871"},
      {"time": "2025-03-13T13:25:00Z", "dewpoint": 26.67, "series": "F8871"},
      {"time": "2025-03-13T13:30:00Z", "dewpoint": 27.05, "series": "F8871"},
      {"time": "2025-03-13T13:35:00Z", "dewpoint": 27.33, "series": "F8871"},
      {"time": "2025-03-13T13:40:00Z", "dewpoint": 28.0, "series": "F8871"},
      {"time": "2025-03-13T13:45:00Z", "dewpoint": 28.4, "series": "F8871"},
      {"time": "2025-03-13T13:50:00Z", "dewpoint": 28.1, "series": "F8871"},
      {"time": "2025-03-13T13:55:00Z", "dewpoint": 28.5, "series": "F8871"},
      {"time": "2025-03-13T14:00:00Z", "dewpoint": 29.0, "series": "F8871"},
      {"time": "2025-03-13T14:10:00Z", "dewpoint": 29.58, "series": "F8871"},
      {"time": "2025-03-13T14:15:00Z", "dewpoint": 30.33, "series": "F8871"},
      {"time": "2025-03-13T14:20:00Z", "dewpoint": 31.17, "series": "F8871"},
      {"time": "2025-03-13T14:25:00Z", "dewpoint": 32.33, "series": "F8871"},
      {"time": "2025-03-13T14:30:00Z", "dewpoint": 33.0, "series": "F8871"},
      {"time": "2025-03-13T14:35:00Z", "dewpoint": 34.0, "series": "F8871"},
      {"time": "2025-03-13T14:40:00Z", "dewpoint": 34.83, "series": "F8871"},
      {"time": "2025-03-13T14:45:00Z", "dewpoint": 35.58, "series": "F8871"},
      {"time": "2025-03-13T14:50:00Z", "dewpoint": 36.0, "series": "F8871"},
      {"time": "2025-03-13T14:55:00Z", "dewpoint": 36.5, "series": "F8871"},
      {"time": "2025-03-13T15:00:00Z", "dewpoint": 36.83, "series": "F8871"},
      {"time": "2025-03-13T15:05:00Z", "dewpoint": 37.5, "series": "F8871"},
      {"time": "2025-03-13T15:10:00Z", "dewpoint": 38.33, "series": "F8871"},
      {"time": "2025-03-13T15:15:00Z", "dewpoint": 39.5, "series": "F8871"},
      {"time": "2025-03-13T15:20:00Z", "dewpoint": 40.33, "series": "F8871"},
      {"time": "2025-03-13T15:25:00Z", "dewpoint": 40.83, "series": "F8871"},
      {"time": "2025-03-13T15:30:00Z", "dewpoint": 41.5, "series": "F8871"},
      {"time": "2025-03-13T15:35:00Z", "dewpoint": 41.0, "series": "F8871"},
      {"time": "2025-03-13T15:40:00Z", "dewpoint": 41.5, "series": "F8871"},
      {"time": "2025-03-13T15:45:00Z", "dewpoint": 41.17, "series": "F8871"},
      {"time": "2025-03-13T15:50:00Z", "dewpoint": 41.33, "series": "F8871"},
      {"time": "2025-03-13T15:55:00Z", "dewpoint": 41.0, "series": "F8871"},
      {"time": "2025-03-13T16:00:00Z", "dewpoint": 40.67, "series": "F8871"},
      {"time": "2025-03-13T16:05:00Z", "dewpoint": 41.08, "series": "F8871"},
      {"time": "2025-03-13T16:10:00Z", "dewpoint": 40.58, "series": "F8871"},
      {"time": "2025-03-13T16:15:00Z", "dewpoint": 40.17, "series": "F8871"},
      {"time": "2025-03-13T16:20:00Z", "dewpoint": 40.5, "series": "F8871"},
      {"time": "2025-03-13T16:25:00Z", "dewpoint": 40.0, "series": "F8871"},
      {"time": "2025-03-13T16:30:00Z", "dewpoint": 39.67, "series": "F8871"},
      {"time": "2025-03-13T16:35:00Z", "dewpoint": 40.17, "series": "F8871"},
      {"time": "2025-03-13T16:40:00Z", "dewpoint": 39.83, "series": "F8871"},
      {"time": "2025-03-13T16:45:00Z", "dewpoint": 39.9, "series": "F8871"},
      {"time": "2025-03-13T16:50:00Z", "dewpoint": 39.5, "series": "F8871"},
      {"time": "2025-03-13T16:55:00Z", "dewpoint": 39.5, "series": "F8871"},
      {"time": "2025-03-13T17:00:00Z", "dewpoint": 39.17, "series": "F8871"},
      {"time": "2025-03-13T17:05:00Z", "dewpoint": 38.67, "series": "F8871"},
      {"time": "2025-03-13T17:10:00Z", "dewpoint": 38.92, "series": "F8871"},
      {"time": "2025-03-13T17:15:00Z", "dewpoint": 39.25, "series": "F8871"},
      {"time": "2025-03-13T17:20:00Z", "dewpoint": 38.83, "series": "F8871"},
      {"time": "2025-03-13T17:25:00Z", "dewpoint": 39.33, "series": "F8871"},
      {"time": "2025-03-13T17:30:00Z", "dewpoint": 39.08, "series": "F8871"},
      {"time": "2025-03-13T17:35:00Z", "dewpoint": 38.5, "series": "F8871"},
      {"time": "2025-03-13T17:40:00Z", "dewpoint": 39.33, "series": "F8871"},
      {"time": "2025-03-13T17:45:00Z", "dewpoint": 38.67, "series": "F8871"},
      {"time": "2025-03-13T17:50:00Z", "dewpoint": 37.92, "series": "F8871"},
      {"time": "2025-03-13T17:55:00Z", "dewpoint": 37.83, "series": "F8871"},
      {"time": "2025-03-13T18:00:00Z", "dewpoint": 37.33, "series": "F8871"},
      {"time": "2025-03-13T18:05:00Z", "dewpoint": 37.83, "series": "F8871"},
      {"time": "2025-03-13T18:10:00Z", "dewpoint": 37.0, "series": "F8871"},
      {"time": "2025-03-13T18:15:00Z", "dewpoint": 36.5, "series": "F8871"},
      {"time": "2025-03-13T18:20:00Z", "dewpoint": 36.0, "series": "F8871"},
      {"time": "2025-03-13T18:25:00Z", "dewpoint": 36.67, "series": "F8871"},
      {"time": "2025-03-13T18:30:00Z", "dewpoint": 35.83, "series": "F8871"},
      {"time": "2025-03-13T18:35:00Z", "dewpoint": 36.33, "series": "F8871"},
      {"time": "2025-03-13T18:40:00Z", "dewpoint": 35.5, "series": "F8871"},
      {"time": "2025-03-13T18:45:00Z", "dewpoint": 36.0, "series": "F8871"},
      {"time": "2025-03-13T18:50:00Z", "dewpoint": 36.33, "series": "F8871"},
      {"time": "2025-03-13T18:55:00Z", "dewpoint": 36.83, "series": "F8871"},
      {"time": "2025-03-13T19:00:00Z", "dewpoint": 35.83, "series": "F8871"},
      {"time": "2025-03-13T19:05:00Z", "dewpoint": 35.5, "series": "F8871"},
      {"time": "2025-03-13T19:10:00Z", "dewpoint": 35.17, "series": "F8871"},
      {"time": "2025-03-13T19:15:00Z", "dewpoint": 35.67, "series": "F8871"},
      {"time": "2025-03-13T19:20:00Z", "dewpoint": 35.0, "series": "F8871"},
      {"time": "2025-03-13T19:25:00Z", "dewpoint": 35.5, "series": "F8871"},
      {"time": "2025-03-13T19:30:00Z", "dewpoint": 35.67, "series": "F8871"},
      {"time": "2025-03-13T19:35:00Z", "dewpoint": 35.17, "series": "F8871"},
      {"time": "2025-03-13T19:40:00Z", "dewpoint": 34.67, "series": "F8871"},
      {"time": "2025-03-13T19:47:00Z", "dewpoint": 34.5, "series": "F8871"},
      {"time": "2025-03-13T19:52:00Z", "dewpoint": 34.0, "series": "F8871"},
      {"time": "2025-03-13T19:57:00Z", "dewpoint": 33.17, "series": "F8871"},
      {"time": "2025-03-13T20:02:00Z", "dewpoint": 32.17, "series": "F8871"},
      {"time": "2025-03-13T20:07:00Z", "dewpoint": 31.67, "series": "F8871"},
      {"time": "2025-03-13T20:12:00Z", "dewpoint": 31.17, "series": "F8871"},
      {"time": "2025-03-13T20:17:00Z", "dewpoint": 30.33, "series": "F8871"},
      {"time": "2025-03-13T20:22:00Z", "dewpoint": 29.5, "series": "F8871"},
      {"time": "2025-03-13T20:27:00Z", "dewpoint": 28.67, "series": "F8871"},
      {"time": "2025-03-13T20:32:00Z", "dewpoint": 27.83, "series": "F8871"},
      {"time": "2025-03-13T20:37:00Z", "dewpoint": 27.5, "series": "F8871"},
      {"time": "2025-03-13T20:42:00Z", "dewpoint": 28.83, "series": "F8871"},
      {"time": "2025-03-13T20:47:00Z", "dewpoint": 30.17, "series": "F8871"},
      {"time": "2025-03-13T20:52:00Z", "dewpoint": 29.67, "series": "F8871"},
      {"time": "2025-03-13T20:57:00Z", "dewpoint": 28.83, "series": "F8871"},
      {"time": "2025-03-13T21:02:00Z", "dewpoint": 28.33, "series": "F8871"},
      {"time": "2025-03-13T21:07:00Z", "dewpoint": 27.67, "series": "F8871"},
      {"time": "2025-03-13T21:12:00Z", "dewpoint": 26.83, "series": "F8871"},
      {"time": "2025-03-13T21:17:00Z", "dewpoint": 26.17, "series": "F8871"},
      {"time": "2025-03-13T21:20:00Z", "dewpoint": 25.83, "series": "F8871"}
    ],
    "sun": [
      {"time": "2025-03-12T00:41:00Z", "event": "Sunset"},
      {"time": "2025-03-12T13:03:00Z", "event": "Sunrise"},
      {"time": "2025-03-13T00:45:00Z", "event": "Sunset"},
      {"time": "2025-03-13T13:01:00Z", "event": "Sunrise"},
      {"time": "2025-03-14T00:45:00Z", "event": "Sunset"}
    ]
  },
  "layer": [
    {
      "data": {"name": "dew"},
      "mark": {"type": "line", "strokeWidth": 1},
      "encoding": {
        "x": {
          "field": "time", "type": "temporal",
          "scale": {"type": "utc", "domain": [1741737600000, 1741910400000]},
          "axis": {"orient": "bottom", "title": null, "values": [1741737600000, 1741741200000, 1741744800000, 1741748400000, 1741752000000, 1741755600000, 1741759200000, 1741762800000, 1741766400000, 1741770000000, 1741773600000, 1741777200000, 1741780800000, 1741784400000, 1741788000000, 1741791600000, 1741795200000, 1741798800000, 1741802400000, 1741806000000, 1741809600000, 1741813200000, 1741816800000, 1741820400000, 1741824000000, 1741827600000, 1741831200000, 1741834800000, 1741838400000, 1741842000000, 1741845600000, 1741849200000, 1741852800000, 1741856400000, 1741860000000, 1741863600000, 1741867200000, 1741870800000, 1741874400000, 1741878000000, 1741881600000, 1741885200000, 1741888800000, 1741892400000, 1741896000000, 1741899600000, 1741903200000, 1741906800000, 1741910400000], "labelExpr": "utchours(datum.value) % 4 == 0 ? [utcFormat(datum.value, '%m/%d'), utcFormat(datum.value, '%H:%M')] : ''", "labelOverlap": false, "labelFlush": false, "labelBound": false, "labelAlign": "center", "labelBaseline": "top", "labelLineHeight": 13, "tickSize": -3, "labelPadding": 12}
        },
        "y": {
          "field": "dewpoint", "type": "quantitative",
          "scale": {"domain": [22, 42], "zero": false, "nice": false},
          "axis": {"orient": "left", "values": [22, 24, 26, 28, 30, 32, 34, 36, 38, 40, 42], "labelOverlap": false, "tickSize": -5, "labelPadding": 13, "title": "degrees F", "titleX": -36, "titleY": 200, "titleAngle": 270, "titleBaseline": "middle", "titleAlign": "center"}
        },
        "color": {
          "field": "series", "type": "nominal",
          "scale": {"domain": ["F8871 Analysis", "F8871"], "range": ["#ff0000", "#0080ff"]},
          "legend": {"orient": "none", "legendX": 546.5, "legendY": 5, "title": null, "symbolType": "M-3,0H3", "symbolSize": 100, "symbolStrokeWidth": 1, "labelAlign": "right", "labelOffset": -29.5, "padding": 0, "rowPadding": 2}
        }
      }
    },
    {
      "data": {"name": "sun"},
      "mark": {"type": "rule", "color": "black", "strokeWidth": 1},
      "encoding": {
        "x": {"field": "time", "type": "temporal", "axis": {"orient": "top", "title": null, "labels": false, "tickSize": -3, "values": [1741737600000, 1741741200000, 1741744800000, 1741748400000, 1741752000000, 1741755600000, 1741759200000, 1741762800000, 1741766400000, 1741770000000, 1741773600000, 1741777200000, 1741780800000, 1741784400000, 1741788000000, 1741791600000, 1741795200000, 1741798800000, 1741802400000, 1741806000000, 1741809600000, 1741813200000, 1741816800000, 1741820400000, 1741824000000, 1741827600000, 1741831200000, 1741834800000, 1741838400000, 1741842000000, 1741845600000, 1741849200000, 1741852800000, 1741856400000, 1741860000000, 1741863600000, 1741867200000, 1741870800000, 1741874400000, 1741878000000, 1741881600000, 1741885200000, 1741888800000, 1741892400000, 1741896000000, 1741899600000, 1741903200000, 1741906800000, 1741910400000]}},
        "y": {"datum": 22, "type": "quantitative", "axis": {"orient": "right", "title": null, "labels": false, "tickSize": -5, "values": [22, 24, 26, 28, 30, 32, 34, 36, 38, 40, 42]}},
        "y2": {"datum": 39}
      }
    },
    {
      "data": {"name": "sun"},
      "mark": {"type": "text", "angle": 270, "align": "left", "baseline": "middle", "font": "DejaVu Sans Mono", "fontSize": 10, "color": "black"},
      "encoding": {
        "x": {"field": "time", "type": "temporal", "axis": null},
        "y": {"datum": 39.4, "type": "quantitative", "axis": null},
        "text": {"field": "event"}
      }
    }
  ],
  "resolve": {"axis": {"x": "independent", "y": "independent"}},
  "config": {
    "view": {"stroke": "black", "strokeWidth": 1},
    "axis": {"domain": false, "grid": false, "tickColor": "black", "tickWidth": 1, "labelFont": "DejaVu Sans Mono", "labelFontSize": 10, "labelColor": "black", "titleFont": "DejaVu Sans Mono", "titleFontSize": 10, "titleFontWeight": "normal", "titleColor": "black"},
    "legend": {"labelFont": "DejaVu Sans Mono", "labelFontSize": 10, "labelColor": "black"}
  }
}
